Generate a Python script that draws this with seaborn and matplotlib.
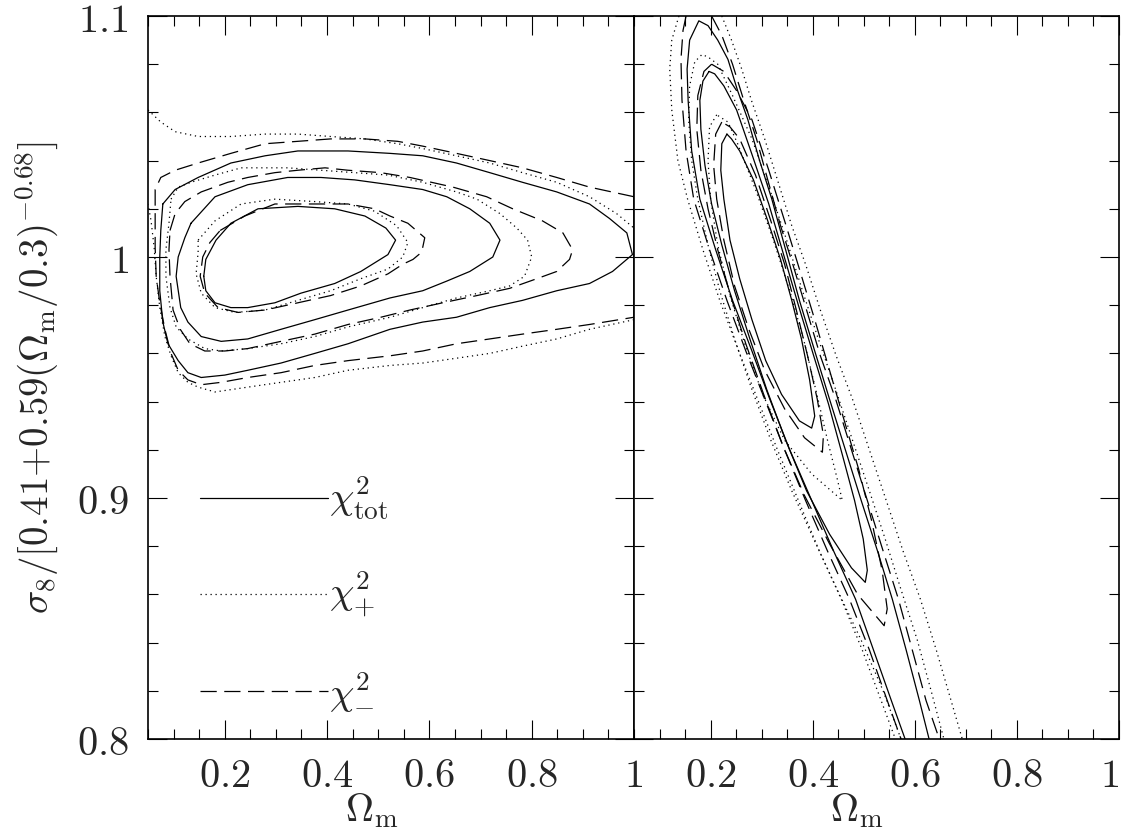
import pandas as pd
import seaborn as sns
import matplotlib.pyplot as plt
from matplotlib.ticker import MultipleLocator

# contour lines (Omega_m, sigma_8 ratio)
# left panel
tot1_x = [0.159, 0.163, 0.183, 0.212, 0.265, 0.343, 0.415, 0.474, 0.515, 0.534, 0.519, 0.466, 0.415, 0.349, 0.298, 0.245, 0.212, 0.181, 0.163, 0.159]
tot1_y = [0.992, 0.999, 1.007, 1.014, 1.020, 1.021, 1.020, 1.017, 1.012, 1.007, 1.001, 0.994, 0.989, 0.985, 0.981, 0.979, 0.979, 0.981, 0.986, 0.992]
tot2_x = [0.134, 0.181, 0.245, 0.323, 0.388, 0.454, 0.523, 0.587, 0.634, 0.679, 0.718, 0.738, 0.724, 0.679, 0.634, 0.587, 0.523, 0.441, 0.376, 0.310, 0.245, 0.193, 0.154, 0.128, 0.114, 0.105, 0.109, 0.122, 0.134]
tot2_y = [1.014, 1.025, 1.030, 1.033, 1.033, 1.032, 1.030, 1.028, 1.025, 1.020, 1.014, 1.007, 1.000, 0.994, 0.990, 0.986, 0.983, 0.978, 0.974, 0.970, 0.966, 0.965, 0.967, 0.973, 0.979, 0.992, 1.000, 1.008, 1.014]
tot3_x = [0.079, 0.103, 0.148, 0.212, 0.279, 0.343, 0.441, 0.523, 0.587, 0.653, 0.718, 0.782, 0.849, 0.913, 0.952, 0.986, 0.997, 0.958, 0.913, 0.849, 0.782, 0.718, 0.653, 0.587, 0.523, 0.441, 0.376, 0.310, 0.245, 0.200, 0.154, 0.128, 0.109, 0.089, 0.079, 0.073, 0.073, 0.075, 0.079]
tot3_y = [1.022, 1.028, 1.033, 1.039, 1.042, 1.044, 1.044, 1.043, 1.042, 1.039, 1.035, 1.031, 1.027, 1.022, 1.016, 1.010, 1.001, 0.994, 0.989, 0.986, 0.982, 0.979, 0.975, 0.973, 0.970, 0.964, 0.960, 0.956, 0.953, 0.951, 0.950, 0.952, 0.957, 0.964, 0.973, 0.986, 1.000, 1.011, 1.022]

plus1_x = [0.148, 0.181, 0.232, 0.298, 0.376, 0.441, 0.493, 0.536, 0.558, 0.548, 0.519, 0.466, 0.407, 0.343, 0.279, 0.220, 0.181, 0.154, 0.144, 0.148, 0.148]
plus1_y = [1.007, 1.015, 1.022, 1.024, 1.023, 1.022, 1.019, 1.013, 1.006, 1.000, 0.995, 0.991, 0.986, 0.982, 0.978, 0.977, 0.979, 0.985, 0.993, 1.002, 1.007]
plus2_x = [0.095, 0.109, 0.134, 0.181, 0.232, 0.323, 0.388, 0.454, 0.519, 0.587, 0.653, 0.693, 0.738, 0.771, 0.792, 0.800, 0.786, 0.757, 0.718, 0.653, 0.587, 0.523, 0.441, 0.376, 0.310, 0.245, 0.193, 0.161, 0.128, 0.105, 0.093, 0.085, 0.085, 0.091, 0.095]
plus2_y = [1.024, 1.029, 1.031, 1.034, 1.037, 1.037, 1.036, 1.035, 1.034, 1.031, 1.027, 1.024, 1.018, 1.012, 1.007, 1.000, 0.992, 0.988, 0.986, 0.983, 0.979, 0.975, 0.971, 0.967, 0.964, 0.962, 0.961, 0.962, 0.966, 0.971, 0.979, 0.992, 1.003, 1.014, 1.024]
plus3a_x = [0.050, 0.075, 0.103, 0.148, 0.212, 0.279, 0.343, 0.407, 0.474, 0.538, 0.587, 0.653, 0.718, 0.782, 0.849, 0.913, 0.966, 1.000]
plus3a_y = [1.061, 1.056, 1.052, 1.050, 1.050, 1.051, 1.051, 1.050, 1.049, 1.047, 1.045, 1.042, 1.039, 1.035, 1.031, 1.025, 1.018, 1.012]
plus3b_x = [1.000, 0.913, 0.849, 0.782, 0.718, 0.653, 0.587, 0.523, 0.441, 0.376, 0.310, 0.245, 0.181, 0.148, 0.128, 0.109, 0.095, 0.083, 0.073, 0.066, 0.062, 0.056, 0.050]
plus3b_y = [0.974, 0.970, 0.966, 0.963, 0.960, 0.958, 0.956, 0.955, 0.953, 0.950, 0.948, 0.946, 0.944, 0.946, 0.948, 0.952, 0.959, 0.967, 0.979, 0.992, 1.004, 1.015, 1.022]

minus1_x = [0.191, 0.239, 0.298, 0.363, 0.441, 0.493, 0.523, 0.558, 0.591, 0.585, 0.568, 0.548, 0.519, 0.466, 0.407, 0.343, 0.279, 0.226, 0.187, 0.161, 0.152, 0.157, 0.171, 0.191]
minus1_y = [1.011, 1.017, 1.022, 1.022, 1.022, 1.020, 1.017, 1.014, 1.008, 1.002, 0.999, 0.997, 0.993, 0.988, 0.984, 0.981, 0.978, 0.977, 0.979, 0.985, 0.992, 1.000, 1.006, 1.011]
minus2_x = [0.093, 0.103, 0.122, 0.154, 0.206, 0.245, 0.298, 0.343, 0.396, 0.441, 0.505, 0.562, 0.646, 0.712, 0.763, 0.821, 0.861, 0.880, 0.874, 0.849, 0.810, 0.757, 0.693, 0.626, 0.562, 0.505, 0.441, 0.376, 0.310, 0.245, 0.200, 0.161, 0.132, 0.113, 0.099, 0.093, 0.091, 0.093]
minus2_y = [1.011, 1.018, 1.023, 1.027, 1.031, 1.033, 1.035, 1.036, 1.037, 1.036, 1.035, 1.033, 1.029, 1.025, 1.020, 1.015, 1.010, 1.003, 0.999, 0.994, 0.991, 0.987, 0.984, 0.981, 0.978, 0.975, 0.972, 0.968, 0.965, 0.962, 0.961, 0.961, 0.964, 0.970, 0.978, 0.992, 1.003, 1.011]
minus3_x = [1.000, 0.913, 0.849, 0.782, 0.718, 0.653, 0.587, 0.538, 0.474, 0.407, 0.343, 0.279, 0.212, 0.148, 0.103, 0.075, 0.064, 0.064, 0.064, 0.066, 0.073, 0.083, 0.095, 0.109, 0.128, 0.154, 0.193, 0.245, 0.310, 0.376, 0.441, 0.523, 0.587, 0.653, 0.718, 0.782, 0.849, 0.913, 1.000]
minus3_y = [1.025, 1.029, 1.033, 1.037, 1.040, 1.043, 1.046, 1.048, 1.049, 1.049, 1.048, 1.047, 1.043, 1.039, 1.036, 1.033, 1.028, 1.017, 1.004, 0.992, 0.981, 0.970, 0.960, 0.953, 0.949, 0.947, 0.948, 0.950, 0.952, 0.955, 0.957, 0.959, 0.961, 0.964, 0.966, 0.968, 0.970, 0.972, 0.975]

# right panel
rtot1_x = [0.232, 0.222, 0.220, 0.226, 0.238, 0.257, 0.281, 0.308, 0.339, 0.374, 0.398, 0.404, 0.394, 0.378, 0.359, 0.337, 0.312, 0.284, 0.257, 0.241, 0.232]
rtot1_y = [1.051, 1.047, 1.036, 1.024, 1.007, 0.991, 0.974, 0.957, 0.943, 0.932, 0.929, 0.934, 0.949, 0.966, 0.982, 0.999, 1.015, 1.032, 1.044, 1.049, 1.051]
rtot2_x = [0.197, 0.185, 0.179, 0.181, 0.189, 0.202, 0.222, 0.247, 0.277, 0.310, 0.347, 0.388, 0.433, 0.476, 0.503, 0.507, 0.499, 0.482, 0.458, 0.431, 0.402, 0.372, 0.343, 0.314, 0.282, 0.251, 0.226, 0.208, 0.197]
rtot2_y = [1.077, 1.073, 1.065, 1.053, 1.038, 1.022, 1.005, 0.986, 0.966, 0.945, 0.924, 0.903, 0.885, 0.871, 0.865, 0.870, 0.883, 0.899, 0.918, 0.939, 0.959, 0.980, 1.001, 1.022, 1.042, 1.061, 1.071, 1.076, 1.077]
rtot3_x = [0.581, 0.554, 0.519, 0.484, 0.441, 0.398, 0.355, 0.316, 0.281, 0.243, 0.210, 0.179, 0.163, 0.156, 0.154, 0.159, 0.177, 0.195, 0.214, 0.234, 0.253, 0.273, 0.296, 0.320, 0.347, 0.374, 0.404, 0.433, 0.464, 0.495, 0.527, 0.556, 0.583, 0.609, 0.628]
rtot3_y = [0.800, 0.816, 0.837, 0.858, 0.878, 0.899, 0.920, 0.941, 0.961, 0.982, 1.003, 1.024, 1.044, 1.065, 1.078, 1.090, 1.098, 1.096, 1.090, 1.082, 1.069, 1.057, 1.040, 1.024, 1.003, 0.982, 0.961, 0.941, 0.920, 0.899, 0.878, 0.858, 0.837, 0.816, 0.800]

rplus1_x = [0.212, 0.198, 0.195, 0.200, 0.214, 0.238, 0.267, 0.302, 0.345, 0.398, 0.458, 0.448, 0.429, 0.406, 0.382, 0.355, 0.323, 0.288, 0.253, 0.234, 0.212]
rplus1_y = [1.059, 1.054, 1.040, 1.024, 1.005, 0.984, 0.964, 0.943, 0.924, 0.910, 0.899, 0.908, 0.924, 0.945, 0.966, 0.986, 1.007, 1.028, 1.047, 1.056, 1.059]
rplus2_x = [0.573, 0.538, 0.495, 0.448, 0.402, 0.359, 0.318, 0.281, 0.247, 0.218, 0.195, 0.175, 0.163, 0.157, 0.159, 0.169, 0.183, 0.195, 0.214, 0.243, 0.281, 0.316, 0.349, 0.380, 0.411, 0.445, 0.478, 0.511, 0.542, 0.573, 0.605, 0.632, 0.657]
rplus2_y = [0.800, 0.820, 0.841, 0.862, 0.883, 0.903, 0.924, 0.945, 0.966, 0.986, 1.005, 1.024, 1.040, 1.057, 1.071, 1.081, 1.084, 1.083, 1.080, 1.067, 1.049, 1.028, 1.007, 0.986, 0.966, 0.945, 0.924, 0.903, 0.883, 0.862, 0.841, 0.820, 0.800]
rplus3a_x = [0.138, 0.124, 0.120, 0.124, 0.136, 0.155, 0.185, 0.218, 0.255, 0.292, 0.331, 0.372, 0.413, 0.456, 0.497, 0.534, 0.562]
rplus3a_y = [1.100, 1.090, 1.078, 1.061, 1.040, 1.024, 1.003, 0.982, 0.961, 0.941, 0.920, 0.899, 0.878, 0.858, 0.837, 0.816, 0.800]
rplus3b_x = [0.222, 0.241, 0.261, 0.280, 0.306, 0.331, 0.359, 0.386, 0.415, 0.446, 0.478, 0.511, 0.544, 0.577, 0.611, 0.642, 0.671, 0.693]
rplus3b_y = [1.100, 1.090, 1.078, 1.065, 1.049, 1.032, 1.013, 0.997, 0.978, 0.959, 0.941, 0.920, 0.899, 0.878, 0.858, 0.837, 0.816, 0.800]

rminus1_x = [0.222, 0.210, 0.206, 0.212, 0.226, 0.247, 0.275, 0.306, 0.345, 0.384, 0.419, 0.421, 0.409, 0.390, 0.368, 0.345, 0.318, 0.288, 0.257, 0.238, 0.222]
rminus1_y = [1.056, 1.051, 1.038, 1.024, 1.007, 0.988, 0.970, 0.953, 0.937, 0.925, 0.919, 0.926, 0.941, 0.959, 0.978, 0.997, 1.015, 1.034, 1.049, 1.054, 1.056]
rminus2_x = [0.202, 0.187, 0.175, 0.173, 0.181, 0.195, 0.214, 0.239, 0.269, 0.304, 0.341, 0.384, 0.433, 0.488, 0.540, 0.546, 0.536, 0.515, 0.490, 0.462, 0.433, 0.404, 0.374, 0.345, 0.314, 0.281, 0.251, 0.226, 0.202]
rminus2_y = [1.080, 1.077, 1.067, 1.053, 1.036, 1.020, 1.003, 0.984, 0.964, 0.943, 0.922, 0.901, 0.881, 0.860, 0.847, 0.854, 0.870, 0.891, 0.912, 0.932, 0.953, 0.974, 0.995, 1.015, 1.036, 1.057, 1.069, 1.077, 1.080]
rminus3a_x = [0.152, 0.146, 0.142, 0.144, 0.152, 0.167, 0.198, 0.232, 0.269, 0.306, 0.345, 0.386, 0.429, 0.472, 0.511, 0.546, 0.573]
rminus3a_y = [1.100, 1.094, 1.082, 1.065, 1.044, 1.024, 1.003, 0.982, 0.961, 0.941, 0.920, 0.899, 0.878, 0.858, 0.837, 0.816, 0.800]
rminus3b_x = [0.202, 0.222, 0.243, 0.265, 0.290, 0.312, 0.337, 0.361, 0.388, 0.415, 0.445, 0.476, 0.507, 0.538, 0.568, 0.595, 0.622, 0.648]
rminus3b_y = [1.100, 1.092, 1.080, 1.065, 1.049, 1.032, 1.013, 0.997, 0.978, 0.959, 0.941, 0.920, 0.899, 0.878, 0.858, 0.837, 0.816, 0.800]

kinds = ['tot', 'plus', 'minus']
legend_labels = [r'$\chi^2_{\rm tot}$', r'$\chi^2_{+}$', r'$\chi^2_{-}$']
x_ticks = [0.2, 0.4, 0.6, 0.8, 1.0]
x_tick_labels = ['$0.2$', '$0.4$', '$0.6$', '$0.8$', '$1$']
y_ticks = [0.8, 0.9, 1.0, 1.1]
y_tick_labels = ['$0.8$', '$0.9$', '$1$', '$1.1$']

left_lines = [('tot', tot1_x, tot1_y), ('tot', tot2_x, tot2_y), ('tot', tot3_x, tot3_y),
              ('plus', plus1_x, plus1_y), ('plus', plus2_x, plus2_y),
              ('plus', plus3a_x, plus3a_y), ('plus', plus3b_x, plus3b_y),
              ('minus', minus1_x, minus1_y), ('minus', minus2_x, minus2_y), ('minus', minus3_x, minus3_y)]
right_lines = [('tot', rtot1_x, rtot1_y), ('tot', rtot2_x, rtot2_y), ('tot', rtot3_x, rtot3_y),
               ('plus', rplus1_x, rplus1_y), ('plus', rplus2_x, rplus2_y),
               ('plus', rplus3a_x, rplus3a_y), ('plus', rplus3b_x, rplus3b_y),
               ('minus', rminus1_x, rminus1_y), ('minus', rminus2_x, rminus2_y),
               ('minus', rminus3a_x, rminus3a_y), ('minus', rminus3b_x, rminus3b_y)]


def to_frame(lines):
    rows = []
    for i, (kind, xs, ys) in enumerate(lines):
        for x, y in zip(xs, ys):
            rows.append({'om': x, 's8': y, 'kind': kind, 'piece': i})
    return pd.DataFrame(rows)


sns.set_style('ticks')
plt.rcParams['mathtext.fontset'] = 'cm'
plt.rcParams['font.family'] = ['DejaVu Sans']

dash_map = {'tot': '', 'plus': (1, 3), 'minus': (13, 6)}

fig = plt.figure(figsize=(11.22, 8.38), dpi=100)
ax1 = fig.add_axes([148 / 1122, 1 - 739 / 838, 486 / 1122, 723 / 838])
ax2 = fig.add_axes([634 / 1122, 1 - 739 / 838, 485 / 1122, 723 / 838], sharey=ax1)

for ax, lines in [(ax1, left_lines), (ax2, right_lines)]:
    sns.lineplot(data=to_frame(lines), x='om', y='s8', units='piece', estimator=None,
                 sort=False, style='kind', style_order=kinds, dashes=dash_map,
                 color='black', linewidth=0.9, legend=False, ax=ax)
    ax.set_xlim(0.05, 1.0)
    ax.set_ylim(0.8, 1.1)
    ax.set_xticks(x_ticks, labels=x_tick_labels, fontsize=29)
    ax.xaxis.set_minor_locator(MultipleLocator(0.05))
    ax.yaxis.set_minor_locator(MultipleLocator(0.02))
    ax.tick_params(which='both', direction='in', top=True, right=True, width=0.8, color='black')
    ax.tick_params(which='major', length=14)
    ax.tick_params(which='minor', length=7)
    ax.tick_params(axis='x', pad=12)
    ax.tick_params(axis='y', pad=14)
    for s in ax.spines.values():
        s.set_linewidth(1.2)
        s.set_color('black')
    ax.set_xlabel(r'$\Omega_{\rm m}$', fontsize=28)
    ax.xaxis.set_label_coords(0.46, -0.072)
    ax.set_ylabel('')

# the last label of the right panel sits flush against the figure edge
ax2.get_xticklabels()[-1].set_horizontalalignment('right')

ax1.set_yticks(y_ticks, labels=y_tick_labels, fontsize=29)
ax2.tick_params(labelleft=False)
ax1.set_ylabel(r'$\sigma_8/[0.41{+}0.59(\Omega_{\rm m}/0.3)^{-0.68}]$', fontsize=28, labelpad=12)

# hand-drawn key inside the left panel
for k, lab, yk in zip(kinds, legend_labels, [0.90, 0.86, 0.82]):
    ax1.plot([0.152, 0.402], [yk, yk], color='black', linewidth=0.9,
             dashes=dash_map[k] if dash_map[k] else (None, None))
    ax1.text(0.404, yk, lab, fontsize=28, ha='left', va='center')

fig.savefig('out.png', dpi=100)
